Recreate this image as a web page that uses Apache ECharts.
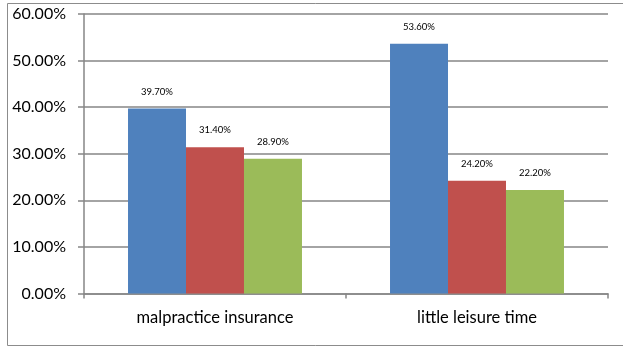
<!DOCTYPE html>
<html>
<head>
<meta charset="utf-8">
<script src="https://cdn.jsdelivr.net/npm/echarts@6/dist/echarts.min.js"></script>
<style>
  html, body { margin: 0; padding: 0; background: #fff; }
  #chart { width: 623px; height: 347px; }
</style>
</head>
<body>
<div id="chart"></div>
<script>
// Categories and the three series (values in percent)
const categories = ['malpractice insurance', 'little leisure time'];
const seriesA = [39.7, 53.6];
const seriesB = [31.4, 24.2];
const seriesC = [28.9, 22.2];
const yTicks = { min: 0, max: 60, interval: 10 };

const colors = ['#4F81BD', '#C0504D', '#9BBB59'];
const fontFamily = 'Lato, "Liberation Sans", sans-serif';

const chart = echarts.init(document.getElementById('chart'), null, { renderer: 'canvas' });

function barSeries(data, color) {
  return {
    type: 'bar',
    data: data,
    barGap: '0%',
    barCategoryGap: '33.6%',
    itemStyle: { color: color },
    label: {
      show: true,
      position: 'top',
      distance: 12,
      fontFamily: fontFamily,
      fontSize: 9.5,
      color: '#000',
      formatter: p => p.value.toFixed(2) + '%'
    }
  };
}

chart.setOption({
  animation: false,
  backgroundColor: '#fff',
  graphic: [{
    type: 'rect',
    shape: { x: 7.5, y: 3.5, width: 640, height: 342 },
    style: { fill: 'none', stroke: '#8c8c8c', lineWidth: 1 },
    z: -10
  }],
  grid: { left: 84, right: 15, top: 14, bottom: 53.5, containLabel: false },
  xAxis: {
    type: 'category',
    data: categories,
    axisLine: { lineStyle: { color: '#868686', width: 1.5 } },
    axisTick: { show: true, length: 5, lineStyle: { color: '#868686', width: 1.5 } },
    axisLabel: { fontFamily: fontFamily, fontSize: 16.5, color: '#000', margin: 16 }
  },
  yAxis: {
    type: 'value',
    min: yTicks.min,
    max: yTicks.max,
    interval: yTicks.interval,
    axisLine: { show: true, lineStyle: { color: '#868686', width: 1.5 } },
    axisTick: { show: true, length: 6, lineStyle: { color: '#868686', width: 1.5 } },
    splitLine: { show: true, lineStyle: { color: '#868686', width: 1.5 } },
    axisLabel: {
      fontFamily: fontFamily,
      fontSize: 16,
      color: '#000',
      margin: 18,
      formatter: v => v.toFixed(2) + '%'
    }
  },
  series: [
    barSeries(seriesA, colors[0]),
    barSeries(seriesB, colors[1]),
    barSeries(seriesC, colors[2])
  ]
});
</script>
</body>
</html>
